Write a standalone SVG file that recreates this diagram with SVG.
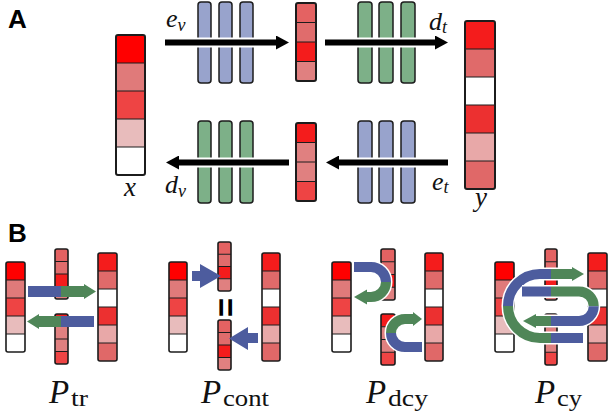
<svg xmlns="http://www.w3.org/2000/svg" width="608" height="417" viewBox="0 0 608 417">
<style>
.bd{fill:none;stroke:#1c1c1c;stroke-width:2}
.bs{fill:none;stroke:#1c1c1c;stroke-width:1.6}
.dv{fill:none;stroke:#1c1c1c;stroke-width:1.2}
.bb{fill:#98a3cc;stroke:#1c1c1c;stroke-width:1.5}
.gb{fill:#7db088;stroke:#1c1c1c;stroke-width:1.5}
.ar{fill:none;stroke:#000;stroke-width:6}
.halo{fill:none;stroke:#fff;stroke-width:10}
.hd{font-family:"Liberation Sans",Arial,sans-serif;font-weight:bold;fill:#000}
.bl{fill:none;stroke:#4d5c9e;stroke-width:10}
.gr{fill:none;stroke:#4f8658;stroke-width:10}
.wh{fill:none;stroke:#fff;stroke-width:13}
.bf{fill:#4d5c9e}
.gf{fill:#4f8658}
</style>
<defs>
<marker id="ah" viewBox="0 0 13 14" refX="1" refY="7" markerWidth="13" markerHeight="14" markerUnits="userSpaceOnUse" orient="auto">
<path d="M0,0 L13,7 L0,14 z" fill="#000"/>
</marker>
</defs>
<rect width="608" height="417" fill="#fff"/>

<text class="hd" x="8" y="28" font-size="26">A</text>
<text class="hd" x="8" y="242" font-size="26">B</text>

<!-- Panel A -->
<g id="bars-ev">
<rect class="bb" x="198" y="2" width="13" height="81" rx="3"/>
<rect class="bb" x="219" y="2" width="13" height="81" rx="3"/>
<rect class="bb" x="240" y="2" width="13" height="81" rx="3"/>
</g>
<g id="bars-dt">
<rect class="gb" x="358" y="2" width="14" height="81" rx="3"/>
<rect class="gb" x="379" y="2" width="14" height="81" rx="3"/>
<rect class="gb" x="401" y="2" width="14" height="81" rx="3"/>
</g>
<g id="bars-dv">
<rect class="gb" x="198" y="121" width="13" height="82" rx="3"/>
<rect class="gb" x="219" y="121" width="13" height="82" rx="3"/>
<rect class="gb" x="240" y="121" width="13" height="82" rx="3"/>
</g>
<g id="bars-et">
<rect class="bb" x="358" y="121" width="14" height="82" rx="3"/>
<rect class="bb" x="379" y="121" width="14" height="82" rx="3"/>
<rect class="bb" x="401" y="121" width="14" height="82" rx="3"/>
</g>

<g id="vec-x">
<rect x="116" y="35" width="29" height="28" fill="#ff0000"/>
<rect x="116" y="63" width="29" height="28" fill="#e07a7a"/>
<rect x="116" y="91" width="29" height="28" fill="#ee4444"/>
<rect x="116" y="119" width="29" height="28" fill="#e8bcbc"/>
<rect x="116" y="147" width="29" height="28" fill="#ffffff"/>
<path class="dv" d="M116 63H145M116 91H145M116 119H145M116 147H145"/>
<rect class="bd" x="116" y="35" width="29" height="140" rx="2"/>
</g>
<g id="vec-zv">
<rect x="296" y="3" width="20" height="19.5" fill="#e46262"/>
<rect x="296" y="22.5" width="20" height="19.5" fill="#e06c6c"/>
<rect x="296" y="42" width="20" height="19.5" fill="#f41c1c"/>
<rect x="296" y="61.5" width="20" height="19.5" fill="#e08080"/>
<path class="dv" d="M296 22.5H316M296 42H316M296 61.5H316"/>
<rect class="bd" x="296" y="3" width="20" height="78" rx="2"/>
</g>
<g id="vec-zt">
<rect x="296" y="123" width="20" height="19.5" fill="#f41c1c"/>
<rect x="296" y="142.5" width="20" height="19.5" fill="#e08080"/>
<rect x="296" y="162" width="20" height="19.5" fill="#e08080"/>
<rect x="296" y="181.5" width="20" height="19.5" fill="#ee4444"/>
<path class="dv" d="M296 142.5H316M296 162H316M296 181.5H316"/>
<rect class="bd" x="296" y="123" width="20" height="78" rx="2"/>
</g>
<g id="vec-y">
<rect x="465" y="21" width="30" height="28" fill="#f41c1c"/>
<rect x="465" y="49" width="30" height="28" fill="#e06a6a"/>
<rect x="465" y="77" width="30" height="28" fill="#ffffff"/>
<rect x="465" y="105" width="30" height="28" fill="#ec3030"/>
<rect x="465" y="133" width="30" height="28" fill="#e8a8a8"/>
<rect x="465" y="161" width="30" height="28" fill="#e06868"/>
<path class="dv" d="M465 49H495M465 77H495M465 105H495M465 133H495M465 161H495"/>
<rect class="bd" x="465" y="21" width="30" height="168" rx="2"/>
</g>

<g id="connectors-A">
<path class="halo" d="M165 42.5H278"/>
<path class="ar" d="M165 42.5H277" marker-end="url(#ah)"/>
<path class="halo" d="M325 42.5H436"/>
<path class="ar" d="M325 42.5H436" marker-end="url(#ah)"/>
<path class="halo" d="M289 162.5H177"/>
<path class="ar" d="M289 162.5H178" marker-end="url(#ah)"/>
<path class="halo" d="M448 162.5H337"/>
<path class="ar" d="M448 162.5H338" marker-end="url(#ah)"/>
</g>

<g id="labels-A" font-family="'Liberation Serif', 'DejaVu Serif', serif" font-style="italic" fill="#111">
<text x="166" y="27" font-size="26">e<tspan font-size="18" dy="4">v</tspan></text>
<text x="429" y="30" font-size="26">d<tspan font-size="18" dy="3">t</tspan></text>
<text x="124" y="196" font-size="27">x</text>
<text x="165" y="193" font-size="26">d<tspan font-size="18" dy="4">v</tspan></text>
<text x="432" y="190" font-size="26">e<tspan font-size="18" dy="3">t</tspan></text>
<text x="475" y="206" font-size="27">y</text>
</g>

<!-- Panel B : P_tr -->
<g id="tr-x">
<rect x="6" y="262" width="19" height="18" fill="#ff0000"/>
<rect x="6" y="280" width="19" height="18" fill="#e07a7a"/>
<rect x="6" y="298" width="19" height="18" fill="#ee4444"/>
<rect x="6" y="316" width="19" height="18" fill="#e8bcbc"/>
<rect x="6" y="334" width="19" height="18" fill="#ffffff"/>
<path class="dv" d="M6 280H25M6 298H25M6 316H25M6 334H25"/>
<rect class="bs" x="6" y="262" width="19" height="90" rx="2"/>
</g>
<g id="tr-zv">
<rect x="55" y="249" width="13" height="12.5" fill="#e46262"/>
<rect x="55" y="261.5" width="13" height="12.5" fill="#e06c6c"/>
<rect x="55" y="274" width="13" height="12.5" fill="#f41c1c"/>
<rect x="55" y="286.5" width="13" height="12.5" fill="#e08080"/>
<path class="dv" d="M55 261.5H68M55 274H68M55 286.5H68"/>
<rect class="bs" x="55" y="249" width="13" height="50" rx="2"/>
</g>
<g id="tr-zt">
<rect x="55" y="314" width="13" height="12.5" fill="#f41c1c"/>
<rect x="55" y="326.5" width="13" height="12.5" fill="#e08080"/>
<rect x="55" y="339" width="13" height="12.5" fill="#e08080"/>
<rect x="55" y="351.5" width="13" height="12.5" fill="#ee4444"/>
<path class="dv" d="M55 326.5H68M55 339H68M55 351.5H68"/>
<rect class="bs" x="55" y="314" width="13" height="50" rx="2"/>
</g>
<g id="tr-y">
<rect x="98" y="253" width="19" height="18" fill="#f41c1c"/>
<rect x="98" y="271" width="19" height="18" fill="#e06a6a"/>
<rect x="98" y="289" width="19" height="18" fill="#ffffff"/>
<rect x="98" y="307" width="19" height="18" fill="#ec3030"/>
<rect x="98" y="325" width="19" height="18" fill="#e8a8a8"/>
<rect x="98" y="343" width="19" height="18" fill="#e06868"/>
<path class="dv" d="M98 271H117M98 289H117M98 307H117M98 325H117M98 343H117"/>
<rect class="bs" x="98" y="253" width="19" height="108" rx="2"/>
</g>

<!-- P_cont -->
<g id="cont-x">
<rect x="169" y="262" width="18" height="18" fill="#ff0000"/>
<rect x="169" y="280" width="18" height="18" fill="#e07a7a"/>
<rect x="169" y="298" width="18" height="18" fill="#ee4444"/>
<rect x="169" y="316" width="18" height="18" fill="#e8bcbc"/>
<rect x="169" y="334" width="18" height="18" fill="#ffffff"/>
<path class="dv" d="M169 280H187M169 298H187M169 316H187M169 334H187"/>
<rect class="bs" x="169" y="262" width="18" height="90" rx="2"/>
</g>
<g id="cont-z1">
<rect x="218" y="242" width="13" height="12.25" fill="#e46262"/>
<rect x="218" y="254.25" width="13" height="12.25" fill="#e06c6c"/>
<rect x="218" y="266.5" width="13" height="12.25" fill="#f41c1c"/>
<rect x="218" y="278.75" width="13" height="12.25" fill="#e08080"/>
<path class="dv" d="M218 254.25H231M218 266.5H231M218 278.75H231"/>
<rect class="bs" x="218" y="242" width="13" height="49" rx="2"/>
</g>
<g id="cont-eq">
<text class="hd" x="225.5" y="319" font-size="33" text-anchor="middle" transform="rotate(90 225.5 307.5)">=</text>
</g>
<g id="cont-z2">
<rect x="218" y="320" width="13" height="12.5" fill="#e46262"/>
<rect x="218" y="332.5" width="13" height="12.5" fill="#e06c6c"/>
<rect x="218" y="345" width="13" height="12.5" fill="#f41c1c"/>
<rect x="218" y="357.5" width="13" height="12.5" fill="#e08080"/>
<path class="dv" d="M218 332.5H231M218 345H231M218 357.5H231"/>
<rect class="bs" x="218" y="320" width="13" height="50" rx="2"/>
</g>
<g id="cont-y">
<rect x="262" y="253" width="18" height="18" fill="#f41c1c"/>
<rect x="262" y="271" width="18" height="18" fill="#e06a6a"/>
<rect x="262" y="289" width="18" height="18" fill="#ffffff"/>
<rect x="262" y="307" width="18" height="18" fill="#ec3030"/>
<rect x="262" y="325" width="18" height="18" fill="#e8a8a8"/>
<rect x="262" y="343" width="18" height="18" fill="#e06868"/>
<path class="dv" d="M262 271H280M262 289H280M262 307H280M262 325H280M262 343H280"/>
<rect class="bs" x="262" y="253" width="18" height="108" rx="2"/>
</g>

<!-- P_dcy -->
<g id="dcy-x">
<rect x="332" y="262" width="19" height="18" fill="#ff0000"/>
<rect x="332" y="280" width="19" height="18" fill="#e07a7a"/>
<rect x="332" y="298" width="19" height="18" fill="#ee4444"/>
<rect x="332" y="316" width="19" height="18" fill="#e8bcbc"/>
<rect x="332" y="334" width="19" height="18" fill="#ffffff"/>
<path class="dv" d="M332 280H351M332 298H351M332 316H351M332 334H351"/>
<rect class="bs" x="332" y="262" width="19" height="90" rx="2"/>
</g>
<g id="dcy-zv">
<rect x="381" y="249" width="14" height="12.75" fill="#e46262"/>
<rect x="381" y="261.75" width="14" height="12.75" fill="#e06c6c"/>
<rect x="381" y="274.5" width="14" height="12.75" fill="#f41c1c"/>
<rect x="381" y="287.25" width="14" height="12.75" fill="#e08080"/>
<path class="dv" d="M381 261.75H395M381 274.5H395M381 287.25H395"/>
<rect class="bs" x="381" y="249" width="14" height="51" rx="2"/>
</g>
<g id="dcy-zt">
<rect x="381" y="314" width="14" height="12.75" fill="#f41c1c"/>
<rect x="381" y="326.75" width="14" height="12.75" fill="#e08080"/>
<rect x="381" y="339.5" width="14" height="12.75" fill="#e08080"/>
<rect x="381" y="352.25" width="14" height="12.75" fill="#ee4444"/>
<path class="dv" d="M381 326.75H395M381 339.5H395M381 352.25H395"/>
<rect class="bs" x="381" y="314" width="14" height="51" rx="2"/>
</g>
<g id="dcy-y">
<rect x="425" y="253" width="18" height="18" fill="#f41c1c"/>
<rect x="425" y="271" width="18" height="18" fill="#e06a6a"/>
<rect x="425" y="289" width="18" height="18" fill="#ffffff"/>
<rect x="425" y="307" width="18" height="18" fill="#ec3030"/>
<rect x="425" y="325" width="18" height="18" fill="#e8a8a8"/>
<rect x="425" y="343" width="18" height="18" fill="#e06868"/>
<path class="dv" d="M425 271H443M425 289H443M425 307H443M425 325H443M425 343H443"/>
<rect class="bs" x="425" y="253" width="18" height="108" rx="2"/>
</g>

<!-- P_cy -->
<g id="cy-x">
<rect x="495" y="262" width="19" height="18" fill="#ff0000"/>
<rect x="495" y="280" width="19" height="18" fill="#e07a7a"/>
<rect x="495" y="298" width="19" height="18" fill="#ee4444"/>
<rect x="495" y="316" width="19" height="18" fill="#e8bcbc"/>
<rect x="495" y="334" width="19" height="18" fill="#ffffff"/>
<path class="dv" d="M495 280H514M495 298H514M495 316H514M495 334H514"/>
<rect class="bs" x="495" y="262" width="19" height="90" rx="2"/>
</g>
<g id="cy-zv">
<rect x="545" y="249" width="12" height="12.75" fill="#e46262"/>
<rect x="545" y="261.75" width="12" height="12.75" fill="#e06c6c"/>
<rect x="545" y="274.5" width="12" height="12.75" fill="#f41c1c"/>
<rect x="545" y="287.25" width="12" height="12.75" fill="#e08080"/>
<path class="dv" d="M545 261.75H557M545 274.5H557M545 287.25H557"/>
<rect class="bs" x="545" y="249" width="12" height="51" rx="2"/>
</g>
<g id="cy-zt">
<rect x="545" y="314" width="12" height="12.75" fill="#f41c1c"/>
<rect x="545" y="326.75" width="12" height="12.75" fill="#e08080"/>
<rect x="545" y="339.5" width="12" height="12.75" fill="#e08080"/>
<rect x="545" y="352.25" width="12" height="12.75" fill="#ee4444"/>
<path class="dv" d="M545 326.75H557M545 339.5H557M545 352.25H557"/>
<rect class="bs" x="545" y="314" width="12" height="51" rx="2"/>
</g>
<g id="cy-y">
<rect x="588" y="253" width="19" height="18" fill="#f41c1c"/>
<rect x="588" y="271" width="19" height="18" fill="#e06a6a"/>
<rect x="588" y="289" width="19" height="18" fill="#ffffff"/>
<rect x="588" y="307" width="19" height="18" fill="#ec3030"/>
<rect x="588" y="325" width="19" height="18" fill="#e8a8a8"/>
<rect x="588" y="343" width="19" height="18" fill="#e06868"/>
<path class="dv" d="M588 271H607M588 289H607M588 307H607M588 325H607M588 343H607"/>
<rect class="bs" x="588" y="253" width="19" height="108" rx="2"/>
</g>

<g id="connectors-B">
<!-- P_tr -->
<rect class="bf" x="28" y="286" width="33" height="11"/>
<polygon class="gf" points="61,286 84,286 84,284 96,291.5 84,299 84,297 61,297"/>
<polygon class="gf" points="27,321.5 39,314 39,316 61,316 61,327 39,327 39,329"/>
<rect class="bf" x="61" y="316" width="33" height="11"/>
<!-- P_cont -->
<polygon class="bf" points="192,271 200,271 200,264 221,276 200,288 200,281 192,281"/>
<polygon class="bf" points="258,333 248,333 248,327 229,338.5 248,350 248,343 258,343"/>
<!-- P_dcy -->
<path class="wh" d="M354 267H371A15 15 0 0 1 371 297H367"/>
<path class="bl" d="M354 267H371A15 15 0 0 1 386 282"/>
<path class="gr" d="M386 282A15 15 0 0 1 371 297H366"/>
<polygon class="gf" points="367,289.5 354,297 367,304.5"/>
<path class="wh" d="M422 347H405A14 14 0 0 1 405 319H413"/>
<path class="bl" d="M422 347H405A14 14 0 0 1 391 333"/>
<path class="gr" d="M391 333A14 14 0 0 1 405 319H414"/>
<polygon class="gf" points="413,312 422,319 413,326"/>
<!-- P_cy outer -->
<path class="wh" d="M583 338H540A32 32 0 0 1 540 274H572"/>
<path class="bl" d="M583 338H551"/>
<path class="gr" d="M551 338H540A32 32 0 0 1 508 306"/>
<path class="bl" d="M508 306A32 32 0 0 1 540 274H551"/>
<path class="gr" d="M551 274H573"/>
<polygon class="gf" points="572,267 584,274 572,281"/>
<!-- P_cy inner -->
<path class="wh" d="M522 291.5H579A14.75 14.75 0 0 1 579 321H536"/>
<path class="bl" d="M522 291.5H551"/>
<path class="gr" d="M551 291.5H579A14.75 14.75 0 0 1 593.75 306.25"/>
<path class="bl" d="M593.75 306.25A14.75 14.75 0 0 1 579 321H551"/>
<path class="gr" d="M551 321H535"/>
<polygon class="gf" points="536,314 523,321 536,328"/>
</g>

<g id="labels-B" font-family="'Liberation Serif', 'DejaVu Serif', serif" fill="#111">
<text x="49" y="403" font-size="33" font-style="italic">P</text><text x="71" y="406" font-size="24" textLength="17" lengthAdjust="spacingAndGlyphs">tr</text>
<text x="201" y="403" font-size="33" font-style="italic">P</text><text x="223" y="406" font-size="24" textLength="46" lengthAdjust="spacingAndGlyphs">cont</text>
<text x="366" y="403" font-size="33" font-style="italic">P</text><text x="388" y="406" font-size="24" textLength="40" lengthAdjust="spacingAndGlyphs">dcy</text>
<text x="535" y="403" font-size="33" font-style="italic">P</text><text x="557" y="406" font-size="24" textLength="25" lengthAdjust="spacingAndGlyphs">cy</text>
</g>
</svg>
